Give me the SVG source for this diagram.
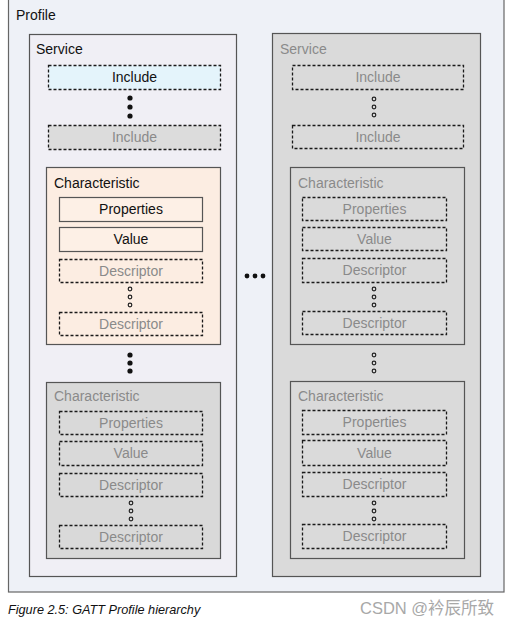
<svg xmlns="http://www.w3.org/2000/svg" width="512" height="625" viewBox="0 0 512 625">
<defs>
<style>
text{font-family:"Liberation Sans",Arial,sans-serif;font-size:14px}
.t{fill:#111}
.g{fill:#8a8a8a}
.c{text-anchor:middle}
.solid{stroke:#555;stroke-width:1.2}
.dash{stroke:#1a1a1a;stroke-width:1.3;stroke-dasharray:3 2;fill:none}
.dot{fill:#111}
.hol{fill:none;stroke:#222;stroke-width:1.2}
</style>
</defs>
<rect x="0" y="0" width="512" height="625" fill="#ffffff"/>
<g id="profile">
<rect x="8.5" y="-1" width="495.5" height="593" fill="#eef1f7" stroke="#666" stroke-width="1.2"/>
<text class="t" x="16" y="20">Profile</text>
</g>
<g id="service1">
<rect x="29.5" y="34.5" width="207" height="542" fill="#f0eff5" class="solid"/>
<text class="t" x="36" y="54">Service</text>
</g>
<g id="include1a">
<rect x="48.5" y="65.5" width="172" height="24" style="fill:#e4f4fb" class="dash"/>
<text class="t c" x="134.5" y="82">Include</text>
</g>
<g id="include1b">
<rect x="48.5" y="125.5" width="172" height="24" style="fill:#dcdcdc" class="dash"/>
<text class="g c" x="134.5" y="142">Include</text>
</g>
<g id="char1">
<rect x="46.5" y="167.5" width="174" height="177" fill="#fcede2" class="solid"/>
<text class="t" x="54" y="188">Characteristic</text>
</g>
<g id="props1">
<rect x="59.5" y="197.5" width="143" height="24" fill="#fdf0e6" class="solid"/>
<text class="t c" x="131" y="214">Properties</text>
</g>
<g id="value1">
<rect x="59.5" y="227.5" width="143" height="24" fill="#fdf0e6" class="solid"/>
<text class="t c" x="131" y="244">Value</text>
</g>
<g id="desc1a">
<rect x="59.5" y="259.5" width="143" height="23" class="dash"/>
<text class="g c" x="131" y="276">Descriptor</text>
</g>
<g id="desc1b">
<rect x="59.5" y="312.5" width="143" height="23" class="dash"/>
<text class="g c" x="131" y="329">Descriptor</text>
</g>
<g id="char2">
<rect x="46.5" y="382.5" width="174" height="176" fill="#d9d9d9" class="solid"/>
<text class="g" x="54" y="401">Characteristic</text>
</g>
<g id="props2">
<rect x="59.5" y="411.5" width="143" height="23" class="dash"/>
<text class="g c" x="131" y="428">Properties</text>
</g>
<g id="value2">
<rect x="59.5" y="441.5" width="143" height="24" class="dash"/>
<text class="g c" x="131" y="458">Value</text>
</g>
<g id="desc2a">
<rect x="59.5" y="473.5" width="143" height="23" class="dash"/>
<text class="g c" x="131" y="490">Descriptor</text>
</g>
<g id="desc2b">
<rect x="59.5" y="525.5" width="143" height="23" class="dash"/>
<text class="g c" x="131" y="542">Descriptor</text>
</g>
<g id="service2">
<rect x="272.5" y="33.5" width="208" height="543" fill="#dadada" class="solid"/>
<text class="g" x="280" y="54">Service</text>
</g>
<g id="include2a">
<rect x="292.5" y="65.5" width="171" height="24" class="dash"/>
<text class="g c" x="378" y="82">Include</text>
</g>
<g id="include2b">
<rect x="292.5" y="125.5" width="171" height="23" class="dash"/>
<text class="g c" x="378" y="142">Include</text>
</g>
<g id="char3">
<rect x="290.5" y="167.5" width="174" height="177" fill="none" class="solid"/>
<text class="g" x="298" y="188">Characteristic</text>
</g>
<g id="props3">
<rect x="302.5" y="197.5" width="144" height="23" class="dash"/>
<text class="g c" x="374.5" y="214">Properties</text>
</g>
<g id="value3">
<rect x="302.5" y="227.5" width="144" height="23" class="dash"/>
<text class="g c" x="374.5" y="244">Value</text>
</g>
<g id="desc3a">
<rect x="302.5" y="258.5" width="144" height="24" class="dash"/>
<text class="g c" x="374.5" y="275">Descriptor</text>
</g>
<g id="desc3b">
<rect x="302.5" y="311.5" width="144" height="23" class="dash"/>
<text class="g c" x="374.5" y="328">Descriptor</text>
</g>
<g id="char4">
<rect x="290.5" y="381.5" width="174" height="177" fill="none" class="solid"/>
<text class="g" x="298" y="401">Characteristic</text>
</g>
<g id="props4">
<rect x="302.5" y="410.5" width="144" height="24" class="dash"/>
<text class="g c" x="374.5" y="427">Properties</text>
</g>
<g id="value4">
<rect x="302.5" y="440.5" width="144" height="25" class="dash"/>
<text class="g c" x="374.5" y="458">Value</text>
</g>
<g id="desc4a">
<rect x="302.5" y="472.5" width="144" height="24" class="dash"/>
<text class="g c" x="374.5" y="489">Descriptor</text>
</g>
<g id="desc4b">
<rect x="302.5" y="524.5" width="144" height="24" class="dash"/>
<text class="g c" x="374.5" y="541">Descriptor</text>
</g>
<g id="connectors">
<circle class="dot" cx="130" cy="98" r="2.6"/>
<circle class="dot" cx="130" cy="107" r="2.6"/>
<circle class="dot" cx="130" cy="116" r="2.6"/>
<circle class="hol" cx="130" cy="289" r="1.8"/>
<circle class="hol" cx="130" cy="297" r="1.8"/>
<circle class="hol" cx="130" cy="305" r="1.8"/>
<circle class="dot" cx="130" cy="355" r="2.6"/>
<circle class="dot" cx="130" cy="363" r="2.6"/>
<circle class="dot" cx="130" cy="371" r="2.6"/>
<circle class="hol" cx="131" cy="503" r="1.8"/>
<circle class="hol" cx="131" cy="511" r="1.8"/>
<circle class="hol" cx="131" cy="519" r="1.8"/>
<circle class="dot" cx="247" cy="276" r="2.4"/>
<circle class="dot" cx="255" cy="276" r="2.4"/>
<circle class="dot" cx="263" cy="276" r="2.4"/>
<circle class="hol" cx="374" cy="99" r="1.8"/>
<circle class="hol" cx="374" cy="107" r="1.8"/>
<circle class="hol" cx="374" cy="115" r="1.8"/>
<circle class="hol" cx="374" cy="289" r="1.8"/>
<circle class="hol" cx="374" cy="297" r="1.8"/>
<circle class="hol" cx="374" cy="305" r="1.8"/>
<circle class="hol" cx="374" cy="355" r="1.8"/>
<circle class="hol" cx="374" cy="363" r="1.8"/>
<circle class="hol" cx="374" cy="371" r="1.8"/>
<circle class="hol" cx="374" cy="503" r="1.8"/>
<circle class="hol" cx="374" cy="511" r="1.8"/>
<circle class="hol" cx="374" cy="519" r="1.8"/>
</g>
<text x="8" y="614" style="font-size:12.7px;font-style:italic" fill="#111">Figure 2.5: GATT Profile hierarchy</text>
<text x="360" y="614" style="font-family:'Liberation Sans','Noto Sans CJK SC',sans-serif;font-size:16.5px" fill="#a8a8a8">CSDN @衿辰所致</text>
</svg>
